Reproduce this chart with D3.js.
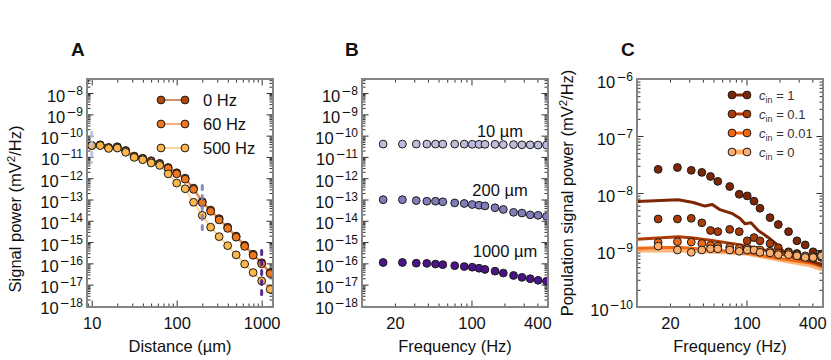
<!DOCTYPE html>
<html><head><meta charset="utf-8">
<script src="https://cdn.jsdelivr.net/npm/d3@7/dist/d3.min.js"></script>
<style>
body{margin:0;background:#fff}
text{font-family:"Liberation Sans",Arial,Helvetica,sans-serif;fill:#111}
</style>
</head><body>
<svg id="chart" width="831" height="360"></svg>
<script>
// ---------------- DATA ----------------
// Panel A: signal power vs distance
const distances = [10, 12.6, 15.8, 20, 25.1, 31.6, 39.8, 50.1, 63.1, 79.4, 100, 126, 158, 200, 251, 316, 398, 501, 631, 794, 1000, 1259];
const powerA_0Hz = [3.5e-11, 3.7e-11, 2.8e-11, 3.0e-11, 2.0e-11, 1.1e-11, 8.7e-12, 6.6e-12, 5.0e-12, 3.2e-12, 1.8e-12, 1.0e-12, 3.4e-13, 7.9e-14, 3.2e-14, 1.26e-14, 5.0e-15, 1.9e-15, 7.1e-16, 2.7e-16, 1.07e-16, 3.7e-17];
const powerA_60Hz = [3.4e-11, 3.6e-11, 2.7e-11, 2.9e-11, 1.9e-11, 1.05e-11, 8.2e-12, 6.2e-12, 4.6e-12, 2.9e-12, 1.6e-12, 9.0e-13, 3.0e-13, 7.0e-14, 2.8e-14, 1.1e-14, 4.4e-15, 1.7e-15, 6.3e-16, 2.4e-16, 9.5e-17, 3.3e-17];
const powerA_500Hz = [3.4e-11, 3.4e-11, 2.5e-11, 2.6e-11, 1.65e-11, 9.5e-12, 7.4e-12, 5.2e-12, 4.0e-12, 1.6e-12, 5.9e-13, 3.2e-13, 7.4e-14, 1.8e-14, 5.0e-15, 1.8e-15, 6.8e-16, 2.5e-16, 9.3e-17, 3.7e-17, 1.5e-17, 6.0e-18];
const legendA = ["0 Hz", "60 Hz", "500 Hz"];
// dashed range markers in panel A
const rangeDistances = [10, 200, 1000];
const rangeLow = [5.6e-12, 2.75e-15, 2.5e-18];
const rangeHigh = [1.45e-10, 4.6e-13, 4.0e-16];

// Panel B: signal power vs frequency at three distances
const frequencies = [15.6, 23.4, 31.3, 39.1, 46.9, 54.7, 70.3, 85.9, 101.6, 117.2, 132.8, 164.1, 195.3, 242.2, 289.1, 343.8, 406.3, 484.4];
const powerB_10um = [4.0e-11, 4.0e-11, 4.0e-11, 4.0e-11, 4.0e-11, 4.0e-11, 4.0e-11, 4.0e-11, 3.9e-11, 3.9e-11, 3.9e-11, 3.9e-11, 3.8e-11, 3.8e-11, 3.7e-11, 3.7e-11, 3.6e-11, 3.6e-11];
const powerB_200um = [9.8e-14, 9.8e-14, 8.9e-14, 8.3e-14, 8.3e-14, 7.8e-14, 6.9e-14, 6.5e-14, 5.8e-14, 5.4e-14, 5.0e-14, 4.1e-14, 3.4e-14, 2.5e-14, 2.3e-14, 1.9e-14, 1.8e-14, 1.6e-14];
const powerB_1000um = [1.1e-16, 1.1e-16, 1.02e-16, 1.0e-16, 9.3e-17, 8.7e-17, 7.8e-17, 7.1e-17, 6.6e-17, 5.9e-17, 5.2e-17, 4.3e-17, 3.5e-17, 2.7e-17, 2.2e-17, 1.9e-17, 1.6e-17, 1.45e-17];
const labelsB = ["10 µm", "200 µm", "1000 µm"];

// Panel C: population signal power (dots: simulation, lines: theory)
const powerC_c1 = [2.6e-8, 2.8e-8, 2.5e-8, 2.3e-8, 1.95e-8, 1.6e-8, 1.3e-8, 9.5e-9, 8.9e-9, 7.2e-9, 5.4e-9, 3.7e-9, 2.8e-9, 2.1e-9, 1.45e-9, 1.23e-9, 9.3e-10, 8.5e-10];
const powerC_c01 = [3.5e-9, 3.5e-9, 3.6e-9, 3.0e-9, 2.2e-9, 2.1e-9, 2.3e-9, 2.1e-9, 1.45e-9, 1.65e-9, 1.45e-9, 1.3e-9, 1.1e-9, 9.3e-10, 8.7e-10, 7.6e-10, 7.2e-10, 7.4e-10];
const powerC_c001 = [1.35e-9, 1.4e-9, 1.38e-9, 1.3e-9, 1.2e-9, 1.17e-9, 1.12e-9, 1.07e-9, 1.07e-9, 1.0e-9, 1.0e-9, 9.5e-10, 8.9e-10, 8.9e-10, 8.3e-10, 7.9e-10, 7.6e-10, 7.9e-10];
const powerC_c0 = [1.17e-9, 1.0e-9, 9.1e-10, 1.0e-9, 1.05e-9, 1.05e-9, 1.0e-9, 9.5e-10, 1.0e-9, 1.0e-9, 9.1e-10, 8.9e-10, 8.3e-10, 8.3e-10, 7.9e-10, 7.4e-10, 7.4e-10, 7.9e-10];
const lineC1_freq = [10, 23.8, 32.7, 41.7, 48.7, 57.3, 73.3, 87, 96.8, 110, 128, 158, 188, 217, 287, 380, 500];
const lineC1_power = [7.1e-9, 7.6e-9, 6.8e-9, 5.9e-9, 6.3e-9, 5.1e-9, 4.4e-9, 3.6e-9, 2.9e-9, 3.0e-9, 2.2e-9, 1.66e-9, 1.26e-9, 9.5e-10, 7.4e-10, 6.5e-10, 5.5e-10];
const lineC01_freq = [10, 23.8, 32.7, 50, 70, 96, 145, 200, 290, 380, 500];
const lineC01_power = [1.55e-9, 1.7e-9, 1.62e-9, 1.45e-9, 1.32e-9, 1.2e-9, 1.0e-9, 8.7e-10, 7.1e-10, 6.3e-10, 5.2e-10];
const lineC001_freq = [10, 23.8, 50, 96, 200, 380, 500];
const lineC001_power = [1.07e-9, 1.12e-9, 1.0e-9, 8.9e-10, 7.1e-10, 5.9e-10, 5.0e-10];
const lineC0_freq = [10, 23.8, 50, 96, 200, 380, 500];
const lineC0_power = [1.0e-9, 1.0e-9, 9.5e-10, 8.9e-10, 6.9e-10, 5.5e-10, 4.6e-10];
const legendC = ["1", "0.1", "0.01", "0"];

// tick labels
const xTicksA = [10, 100, 1000];
const xTicksBC = [20, 100, 400];
const yExpAB = [-18, -17, -16, -15, -14, -13, -12, -11, -10, -9, -8];
const yExpC = [-10, -9, -8, -7, -6];

// ---------------- STYLE ----------------
const colA = ["#b5480b", "#f2761b", "#fdb64a"];
const colB = ["#bcbddc", "#807dba", "#4a1486"];
const colC = ["#7f2704", "#ab3a05", "#f16913", "#fdae6b"];
const FRAME = "#858585";
const svg = d3.select("#chart");

function decadeVals(lo, hi, minor) {
  const out = [];
  for (let e = Math.floor(Math.log10(lo)) - 1; e <= Math.ceil(Math.log10(hi)); e++) {
    const ks = minor ? [2,3,4,5,6,7,8,9] : [1];
    ks.forEach(k => { const v = k * Math.pow(10, e); if (v > lo * 1.0001 && v < hi * 0.9999) out.push(+v.toPrecision(6)); });
  }
  return out;
}

function panel(id, box, xDomain, yDomain, xMajor, xLabels, yExps) {
  const x = d3.scaleLog().domain(xDomain).range([box.x0, box.x1]);
  const y = d3.scaleLog().domain(yDomain).range([box.y1, box.y0]);
  const g = svg.append("g");
  svg.append("clipPath").attr("id", "clip" + id).append("rect")
    .attr("x", box.x0).attr("y", box.y0).attr("width", box.x1 - box.x0).attr("height", box.y1 - box.y0);
  const xMinor = decadeVals(xDomain[0], xDomain[1], true);
  const yMajor = decadeVals(yDomain[0], yDomain[1], false);
  const yMinor = decadeVals(yDomain[0], yDomain[1], true);
  const ax = g.append("g");
  const mk = (axisFn, vals, len, tr) => {
    const a = ax.append("g").attr("transform", tr)
      .call(axisFn.tickValues(vals).tickSize(-len).tickFormat(""));
    a.select(".domain").remove();
    a.selectAll("line").attr("stroke", "#333").attr("stroke-width", 1);
  };
  [[6.5, xMajor], [3.5, xMinor]].forEach(([len, vals]) => {
    mk(d3.axisBottom(x), vals, len, `translate(0,${box.y1})`);
    mk(d3.axisTop(x), vals, len, `translate(0,${box.y0})`);
  });
  [[6.5, yMajor], [3.5, yMinor]].forEach(([len, vals]) => {
    mk(d3.axisLeft(y), vals, len, `translate(${box.x0},0)`);
    mk(d3.axisRight(y), vals, len, `translate(${box.x1},0)`);
  });
  // x labels
  const xl = g.append("g").attr("transform", `translate(0,${box.y1})`)
    .call(d3.axisBottom(x).tickValues(xLabels).tickSize(0).tickPadding(0).tickFormat(d3.format("d")));
  xl.select(".domain").remove();
  xl.selectAll("text").attr("dy", null).attr("y", 22).attr("font-size", 16.5)
    .attr("font-family", "Liberation Sans, Arial, sans-serif").attr("fill", "#111");
  // y labels with superscripts
  const yl = g.append("g").attr("transform", `translate(${box.x0},0)`)
    .call(d3.axisLeft(y).tickValues(yExps.map(e => Math.pow(10, e))).tickSize(0).tickPadding(4).tickFormat(""));
  yl.select(".domain").remove();
  yl.selectAll(".tick text").each(function(d) {
    const t = d3.select(this).attr("dy", null).attr("y", 8).attr("font-size", 16.5)
      .attr("font-family", "Liberation Sans, Arial, sans-serif").attr("fill", "#111");
    const e = Math.round(Math.log10(d));
    t.append("tspan").text("10");
    t.append("tspan").attr("dy", -7).attr("dx", 1).attr("font-size", 12).attr("font-family", "DejaVu Sans, sans-serif").text("\u2212");
    t.append("tspan").attr("font-size", 12).text(String(-e));
  });
  const plot = svg.append("g").attr("clip-path", `url(#clip${id})`);
  return {x, y, g, plot, box};
}

function frame(p) {
  svg.append("rect").attr("x", p.box.x0).attr("y", p.box.y0)
    .attr("width", p.box.x1 - p.box.x0).attr("height", p.box.y1 - p.box.y0)
    .attr("fill", "none").attr("stroke", FRAME).attr("stroke-width", 2);
}

function dots(p, xs, ys, color, r) {
  p.plot.append("g").selectAll("circle").data(xs.map((v, i) => [v, ys[i]])).join("circle")
    .attr("cx", d => p.x(d[0])).attr("cy", d => p.y(d[1])).attr("r", r || 3.9)
    .attr("fill", color).attr("stroke", "#1a1a1a").attr("stroke-width", 1);
}
function line(p, xs, ys, color, w, op) {
  p.plot.append("path").datum(xs.map((v, i) => [v, ys[i]]))
    .attr("d", d3.line().x(d => p.x(d[0])).y(d => p.y(d[1])))
    .attr("fill", "none").attr("stroke", color).attr("stroke-width", w).attr("stroke-opacity", op == null ? 1 : op)
    .attr("stroke-linejoin", "round");
}

// ---------------- PANEL A ----------------
const A = panel("A", {x0: 87, x1: 273, y0: 79, y1: 307}, [8.8, 1360], [Math.pow(10, -18.05), Math.pow(10, -7.34)], xTicksA, xTicksA, yExpAB);
[powerA_0Hz, powerA_60Hz, powerA_500Hz].forEach((s, i) => line(A, distances, s, colA[i], 2, 0.6));
[powerA_0Hz, powerA_60Hz, powerA_500Hz].forEach((s, i) => dots(A, distances, s, colA[i]));
rangeDistances.forEach((d, i) => {
  A.plot.append("line").attr("x1", A.x(d)).attr("x2", A.x(d)).attr("y1", A.y(rangeHigh[i])).attr("y2", A.y(rangeLow[i]))
    .attr("stroke", colB[i]).attr("stroke-width", 3).attr("stroke-dasharray", "4,6").attr("stroke-linecap", "round")
    .attr("stroke-opacity", 0.9);
});
frame(A);
legendA.forEach((t, i) => {
  const yy = 100 + i * 24;
  svg.append("line").attr("x1", 161).attr("x2", 185).attr("y1", yy).attr("y2", yy)
    .attr("stroke", colA[i]).attr("stroke-width", 2).attr("stroke-opacity", 0.6);
  [161, 185].forEach(cx => svg.append("circle").attr("cx", cx).attr("cy", yy).attr("r", 3.9)
    .attr("fill", colA[i]).attr("stroke", "#1a1a1a").attr("stroke-width", 1));
  svg.append("text").attr("x", 203).attr("y", yy + 6).attr("font-size", 16.5).text(t);
});
svg.append("text").attr("x", 180).attr("y", 352).attr("text-anchor", "middle").attr("font-size", 16.5).text("Distance (µm)");
const ylA = svg.append("text").attr("transform", "translate(21,209) rotate(-90)").attr("text-anchor", "middle").attr("font-size", 16.5);
ylA.append("tspan").text("Signal power (mV");
ylA.append("tspan").attr("dy", -6).attr("font-size", 11.5).text("2");
ylA.append("tspan").attr("dy", 6).text("/Hz)");
svg.append("text").attr("x", 71).attr("y", 56).attr("font-size", 19).attr("font-weight", "bold").text("A");

// ---------------- PANEL B ----------------
const B = panel("B", {x0: 362, x1: 548, y0: 79, y1: 307}, [10, 500], [Math.pow(10, -18.05), Math.pow(10, -7.34)], [100], xTicksBC, yExpAB);
[powerB_10um, powerB_200um, powerB_1000um].forEach((s, i) => dots(B, frequencies, s, colB[i]));
frame(B);
[[500, 137], [500, 196], [505, 257]].forEach((pos, i) => {
  svg.append("text").attr("x", pos[0]).attr("y", pos[1]).attr("text-anchor", "middle").attr("font-size", 16.5).text(labelsB[i]);
});
svg.append("text").attr("x", 455).attr("y", 352).attr("text-anchor", "middle").attr("font-size", 16.5).text("Frequency (Hz)");
svg.append("text").attr("x", 345).attr("y", 56).attr("font-size", 19).attr("font-weight", "bold").text("B");

// ---------------- PANEL C ----------------
const C = panel("C", {x0: 637, x1: 823, y0: 79, y1: 307}, [10, 500], [1e-10, 1e-6], [100], xTicksBC, yExpC);
line(C, lineC0_freq, lineC0_power, colC[3], 5, 0.9);
line(C, lineC001_freq, lineC001_power, colC[2], 3, 1);
line(C, lineC01_freq, lineC01_power, colC[1], 3, 1);
line(C, lineC1_freq, lineC1_power, colC[0], 3, 1);
[powerC_c1, powerC_c01, powerC_c001, powerC_c0].forEach((s, i) => dots(C, frequencies, s, colC[i]));
frame(C);
legendC.forEach((t, i) => {
  const yy = 95 + i * 19;
  svg.append("line").attr("x1", 732).attr("x2", 747).attr("y1", yy).attr("y2", yy)
    .attr("stroke", colC[i]).attr("stroke-width", i === 3 ? 5 : 3);
  [732, 747].forEach(cx => svg.append("circle").attr("cx", cx).attr("cy", yy).attr("r", 3.9)
    .attr("fill", colC[i]).attr("stroke", "#1a1a1a").attr("stroke-width", 1));
  const tx = svg.append("text").attr("x", 759).attr("y", yy + 5).attr("font-size", 13).attr("fill", "#333");
  tx.append("tspan").attr("font-style", "italic").attr("fill", "#333").text("c");
  tx.append("tspan").attr("font-size", 9).attr("dy", 3).attr("fill", "#333").text("in");
  tx.append("tspan").attr("dy", -3).attr("fill", "#333").text(" = " + t);
});
svg.append("text").attr("x", 730).attr("y", 352).attr("text-anchor", "middle").attr("font-size", 16.5).text("Frequency (Hz)");
const ylC = svg.append("text").attr("transform", "translate(573,193) rotate(-90)").attr("text-anchor", "middle").attr("font-size", 16.5);
ylC.append("tspan").text("Population signal power (mV");
ylC.append("tspan").attr("dy", -6).attr("font-size", 11.5).text("2");
ylC.append("tspan").attr("dy", 6).text("/Hz)");
svg.append("text").attr("x", 621).attr("y", 56).attr("font-size", 19).attr("font-weight", "bold").text("C");
</script>
</body></html>
